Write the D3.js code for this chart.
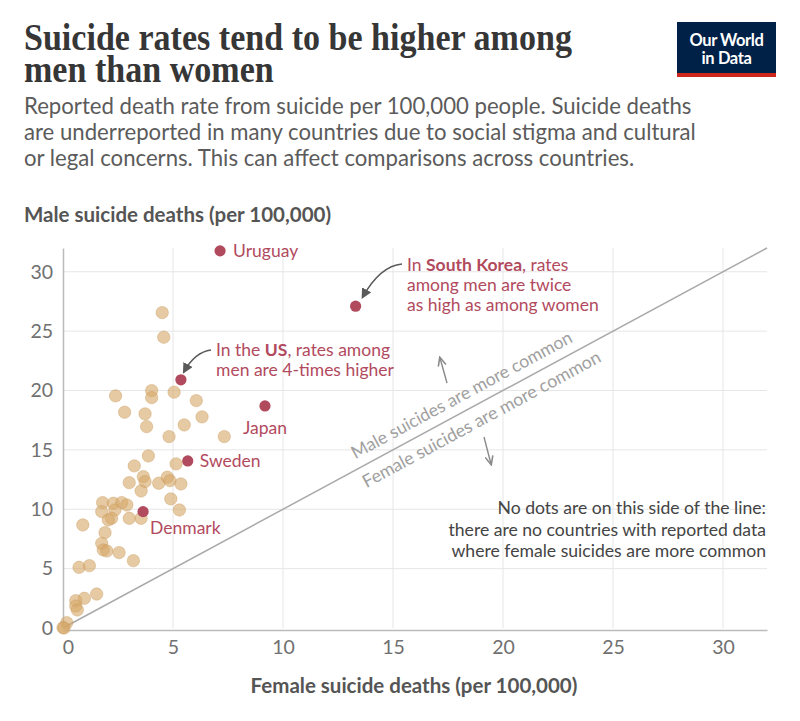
<!DOCTYPE html>
<html>
<head>
<meta charset="utf-8">
<script src="https://cdn.jsdelivr.net/npm/d3@7"></script>
<style>
  body { margin: 0; background: #fff; }
  text { font-family: Lato, "Noto Sans", sans-serif; }
</style>
</head>
<body>
<div id="chart"></div>
<script>
// Unlabelled countries: female and male suicide deaths per 100,000
const femaleRates = [
  4.51, 4.58, 2.39, 4.03, 4.03, 5.05, 6.06, 2.80, 3.73, 6.32,
  3.80, 5.51, 4.82, 7.33, 3.88, 3.24, 5.14, 3.65, 3.01, 3.73,
  4.35, 4.74, 4.86, 5.36, 3.55, 4.90, 5.29, 1.80, 2.29, 2.67,
  2.90, 1.76, 2.36, 2.21, 3.01, 3.55, 2.06, 0.90, 1.91, 1.76,
  1.83, 1.99, 2.55, 3.20, 0.73, 1.20, 1.53, 0.97, 0.58, 0.58,
  0.65, 0.17, 0.00, 0.05
];
const maleRates = [
  26.56, 24.49, 19.55, 19.99, 19.40, 19.86, 19.15, 18.17, 18.03, 17.78,
  16.96, 17.10, 16.12, 16.12, 14.49, 13.65, 13.82, 12.75, 12.24, 12.33,
  12.19, 12.70, 12.41, 12.13, 11.54, 10.87, 9.94, 10.56, 10.50, 10.56,
  10.36, 9.80, 9.94, 9.24, 9.24, 9.24, 9.10, 8.68, 8.03, 7.13,
  6.57, 6.49, 6.35, 5.67, 5.11, 5.25, 2.86, 2.50, 2.30, 1.85,
  1.52, 0.45, 0.03, 0.00
];

// Highlighted countries
const namedCountries = ["Uruguay", "South Korea", "United States", "Japan", "Sweden", "Denmark"];
const namedFemale = [7.14, 13.30, 5.36, 9.18, 5.67, 3.64];
const namedMale = [31.76, 27.10, 20.90, 18.70, 14.07, 9.80];

const xTicks = [0, 5, 10, 15, 20, 25, 30];
const yTicks = [0, 5, 10, 15, 20, 25, 30];

const W = 800, H = 721;
const margin = {top: 248, right: 33, bottom: 93, left: 63};
const plotW = W - margin.left - margin.right;
const plotH = H - margin.top - margin.bottom;

const svg = d3.select('#chart').append('svg')
    .attr('width', W)
    .attr('height', H);

svg.append('rect').attr('width', W).attr('height', H).attr('fill', '#fff');

// Fit a text element to a given width by adjusting font size
function fitWidth(sel, target) {
    const fs = parseFloat(sel.style('font-size'));
    const w = sel.node().getComputedTextLength();
    sel.style('font-size', (fs * target / w).toFixed(2) + 'px');
}

// Title: tall serif squeezed horizontally to the reference width
const titleLines = ['Suicide rates tend to be higher among', 'men than women'];
const titleG = svg.append('g');
const titleTexts = titleLines.map((l, i) => titleG.append('text')
    .attr('y', 50 + i * 32)
    .style('font-family', '"Liberation Serif", "DejaVu Serif", serif')
    .style('font-size', '38px')
    .style('font-weight', 700)
    .style('fill', '#363636')
    .text(l));
const sx = 548 / titleTexts[0].node().getComputedTextLength();
titleTexts.forEach(t => t.attr('transform', `translate(24,0) scale(${sx},1)`));

// Subtitle
const subLines = [
    'Reported death rate from suicide per 100,000 people. Suicide deaths',
    'are underreported in many countries due to social stigma and cultural',
    'or legal concerns. This can affect comparisons across countries.'
];
const s1 = svg.append('text')
    .attr('x', 24).attr('y', 114)
    .style('font-size', '19px').style('fill', '#5b5b5b')
    .text(subLines[0]);
fitWidth(s1, 668);
subLines.slice(1).forEach((l, i) => {
    svg.append('text')
        .attr('x', 24).attr('y', 140 + i * 26)
        .style('font-size', s1.style('font-size')).style('fill', '#5b5b5b')
        .text(l);
});

// Logo
const logo = svg.append('g').attr('transform', 'translate(677,22)');
logo.append('rect').attr('width', 99).attr('height', 55).attr('fill', '#002147');
logo.append('rect').attr('y', 51).attr('width', 99).attr('height', 4).attr('fill', '#ce261e');
['Our World', 'in Data'].forEach((l, i) => {
    logo.append('text')
        .attr('x', 49.5).attr('y', 24 + i * 18)
        .attr('text-anchor', 'middle')
        .style('font-size', '16.5px').style('font-weight', 700)
        .style('fill', '#fff')
        .style('letter-spacing', '-0.4px')
        .text(l);
});

// Scales
const x = d3.scaleLinear().domain([0, 32]).range([margin.left, margin.left + plotW]);
const y = d3.scaleLinear().domain([0, 32]).range([margin.top + plotH, margin.top]);

// Axis titles
svg.append('text')
    .attr('x', 24).attr('y', 222)
    .style('font-size', '20.5px').style('font-weight', 700)
    .style('fill', '#555')
    .text('Male suicide deaths (per 100,000)');

svg.append('text')
    .attr('x', 414).attr('y', 693)
    .attr('text-anchor', 'middle')
    .style('font-size', '20.5px').style('font-weight', 700)
    .style('fill', '#555')
    .text('Female suicide deaths (per 100,000)');

// Grid
const grid = svg.append('g');
grid.selectAll('line.vg')
    .data(xTicks.filter(d => d > 0))
    .enter().append('line')
    .attr('x1', d => x(d)).attr('x2', d => x(d))
    .attr('y1', y(32)).attr('y2', y(0))
    .attr('stroke', '#e6e6e6');
grid.selectAll('line.hg')
    .data(yTicks.filter(d => d > 0))
    .enter().append('line')
    .attr('x1', x(0)).attr('x2', x(32))
    .attr('y1', d => y(d)).attr('y2', d => y(d))
    .attr('stroke', '#e6e6e6');

// Axes
const xAxis = svg.append('g')
    .attr('transform', `translate(0,${y(0) + 2})`)
    .call(d3.axisBottom(x).tickValues(xTicks).tickSize(0).tickPadding(10));
xAxis.select('.domain').attr('stroke', '#bbb').attr('stroke-width', 1.5);
xAxis.selectAll('text').style('font-size', '19.5px').style('fill', '#707070')
    .style('font-family', 'Lato, sans-serif');
xAxis.selectAll('.tick').filter(d => d === 0).select('text').attr('dx', 5);

const yAxis = svg.append('g')
    .attr('transform', `translate(${x(0)},0)`)
    .call(d3.axisLeft(y).tickValues(yTicks).tickSize(0).tickPadding(10));
yAxis.select('.domain').attr('stroke', '#bbb').attr('stroke-width', 1.5);
yAxis.selectAll('text').style('font-size', '19.5px').style('fill', '#707070')
    .style('font-family', 'Lato, sans-serif');

// Diagonal equality line
svg.append('line')
    .attr('x1', x(0)).attr('y1', y(0))
    .attr('x2', x(32)).attr('y2', y(32))
    .attr('stroke', '#aaa').attr('stroke-width', 1.5);

const angle = Math.atan2(y(32) - y(0), x(32) - x(0)) * 180 / Math.PI;
svg.append('text')
    .attr('transform', `translate(${x(18.25)},${y(18.25) - 11}) rotate(${angle})`)
    .attr('text-anchor', 'middle')
    .style('font-size', '17.6px').style('fill', '#a0a0a0')
    .text('Male suicides are more common');
svg.append('text')
    .attr('transform', `translate(${x(19.15)},${y(19.15) + 24}) rotate(${angle})`)
    .attr('text-anchor', 'middle')
    .style('font-size', '17.8px').style('fill', '#a0a0a0')
    .text('Female suicides are more common');

// Arrow markers
const defs = svg.append('defs');
defs.append('marker')
    .attr('id', 'head-light')
    .attr('viewBox', '0 0 10 10')
    .attr('refX', 8).attr('refY', 5)
    .attr('markerWidth', 7).attr('markerHeight', 7)
    .attr('orient', 'auto')
  .append('path')
    .attr('d', 'M0,1 L9,5 L0,9')
    .attr('fill', 'none').attr('stroke', '#8a8a8a').attr('stroke-width', 1.6);
defs.append('marker')
    .attr('id', 'head-dark')
    .attr('viewBox', '0 0 10 10')
    .attr('refX', 8).attr('refY', 5)
    .attr('markerWidth', 7).attr('markerHeight', 7)
    .attr('orient', 'auto')
  .append('path')
    .attr('d', 'M0,0 L10,5 L0,10 Z')
    .attr('fill', '#5a5a5a');

// Up / down arrows beside the diagonal labels
svg.append('line')
    .attr('x1', 447).attr('y1', 383).attr('x2', 440).attr('y2', 358)
    .attr('stroke', '#8a8a8a').attr('stroke-width', 1.4)
    .attr('marker-end', 'url(#head-light)');
svg.append('line')
    .attr('x1', 484).attr('y1', 437).attr('x2', 491).attr('y2', 464)
    .attr('stroke', '#8a8a8a').attr('stroke-width', 1.4)
    .attr('marker-end', 'url(#head-light)');

// Dots
svg.append('g').selectAll('circle')
    .data(femaleRates.map((f, i) => [f, maleRates[i]]))
    .enter().append('circle')
    .attr('cx', d => x(d[0]))
    .attr('cy', d => y(d[1]))
    .attr('r', 6.2)
    .attr('fill', '#d6a768')
    .attr('fill-opacity', 0.6)
    .attr('stroke', '#c99a5c')
    .attr('stroke-opacity', 0.5)
    .attr('stroke-width', 0.8);

const red = '#b24a5e';
svg.append('g').selectAll('circle')
    .data(namedCountries.map((n, i) => ({name: n, f: namedFemale[i], m: namedMale[i]})))
    .enter().append('circle')
    .attr('cx', d => x(d.f))
    .attr('cy', d => y(d.m))
    .attr('r', 5.6)
    .attr('fill', red);

// Simple country labels
const labelSize = '17.5px';
const simpleLabels = {Uruguay: [13, 6], Japan: [-22, 28], Sweden: [12, 6], Denmark: [7, 22]};
namedCountries.forEach((n, i) => {
    if (!simpleLabels[n]) return;
    svg.append('text')
        .attr('x', x(namedFemale[i]) + simpleLabels[n][0])
        .attr('y', y(namedMale[i]) + simpleLabels[n][1])
        .style('font-size', labelSize).style('fill', red)
        .text(n);
});

// Annotation: US
const us = namedCountries.indexOf('United States');
const usText = svg.append('text')
    .style('font-size', labelSize).style('fill', red);
usText.append('tspan').attr('x', 216).attr('y', 356).text('In the ');
usText.append('tspan').style('font-weight', 700).text('US');
usText.append('tspan').text(', rates among');
usText.append('tspan').attr('x', 216).attr('y', 376).text('men are 4-times higher');
svg.append('path')
    .attr('d', `M211,350 Q195,352 ${x(namedFemale[us]) + 3},${y(namedMale[us]) - 8}`)
    .attr('fill', 'none').attr('stroke', '#5a5a5a').attr('stroke-width', 1.5)
    .attr('marker-end', 'url(#head-dark)');

// Annotation: South Korea
const sk = namedCountries.indexOf('South Korea');
const skText = svg.append('text')
    .style('font-size', labelSize).style('fill', red);
skText.append('tspan').attr('x', 407).attr('y', 271).text('In ');
skText.append('tspan').style('font-weight', 700).text('South Korea');
skText.append('tspan').text(', rates');
skText.append('tspan').attr('x', 407).attr('y', 291).text('among men are twice');
skText.append('tspan').attr('x', 407).attr('y', 311).text('as high as among women');
svg.append('path')
    .attr('d', `M402,264 Q380,266 ${x(namedFemale[sk]) + 7},${y(namedMale[sk]) - 9}`)
    .attr('fill', 'none').attr('stroke', '#5a5a5a').attr('stroke-width', 1.5)
    .attr('marker-end', 'url(#head-dark)');

// Note below the line
const noteLines = [
    'No dots are on this side of the line:',
    'there are no countries with reported data',
    'where female suicides are more common'
];
noteLines.forEach((l, i) => {
    svg.append('text')
        .attr('x', x(32) - 1).attr('y', 514 + i * 21.5)
        .attr('text-anchor', 'end')
        .style('font-size', '17.6px').style('fill', '#444')
        .text(l);
});
</script>
</body>
</html>
